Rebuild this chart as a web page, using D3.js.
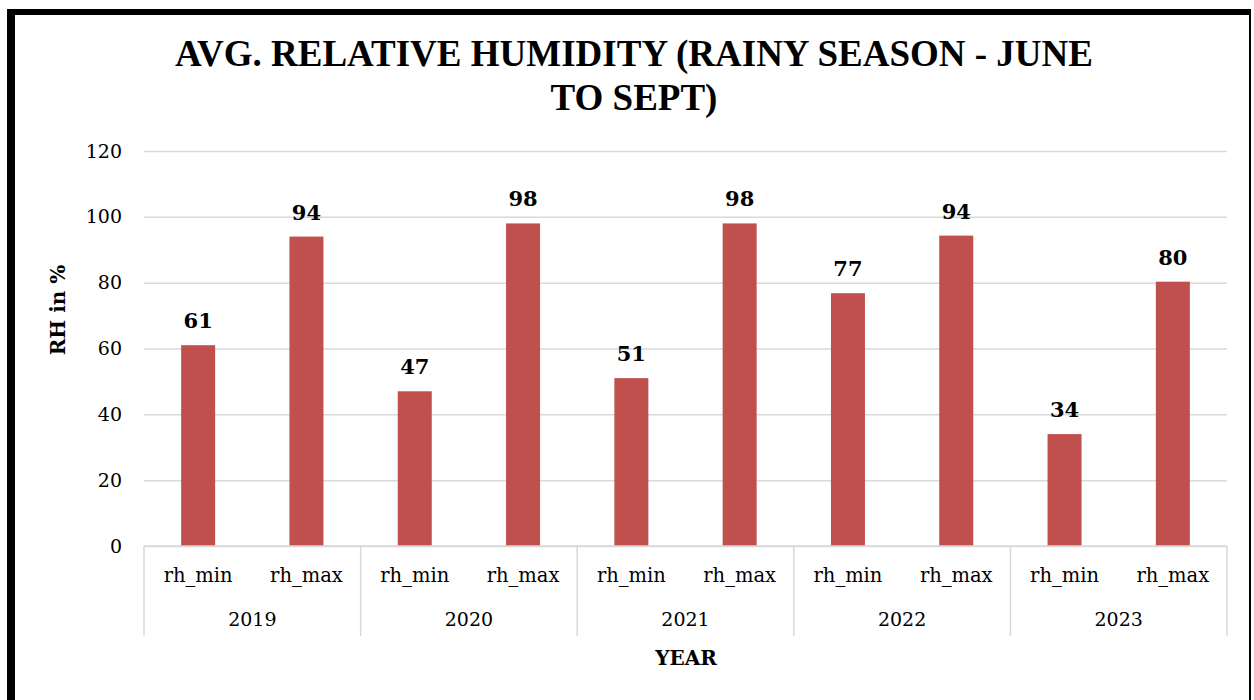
<!DOCTYPE html>
<html>
<head>
<meta charset="utf-8">
<script src="https://cdn.jsdelivr.net/npm/d3@7"></script>
<style>
  html, body { margin: 0; padding: 0; background: #fff; }
  svg { display: block; }
  .title { font-family: 'Liberation Serif', 'Times New Roman', Times, serif; }
</style>
</head>
<body>
<svg id="vis" width="1254" height="700"></svg>
<script>
// chart data
const years = ['2019', '2020', '2021', '2022', '2023'];
const types = ['rh_min', 'rh_max'];
const rhMin = [61, 47, 51, 76.8, 34];
const rhMax = [94, 98, 98, 94.3, 80.3];
const yTicks = [0, 20, 40, 60, 80, 100, 120];

const titleLines = ['AVG. RELATIVE HUMIDITY (RAINY SEASON - JUNE', 'TO SEPT)'];
const yTitle = 'RH in %';
const xTitle = 'YEAR';

const barColor = '#C0504D';
const gridColor = '#D9D9D9';
const tickFont = '"DejaVu Serif", serif';

const margin = { top: 151, left: 144, right: 27, bottom: 154 };
const W = 1254, H = 700;
const width = W - margin.left - margin.right;
const height = H - margin.top - margin.bottom;

const svg = d3.select('#vis');

svg.append('rect').attr('width', W).attr('height', H).attr('fill', '#fff');

// frame
svg.append('line').attr('x1', 11).attr('x2', 11).attr('y1', 9).attr('y2', H)
    .attr('stroke', '#000').attr('stroke-width', 8);
svg.append('line').attr('x1', 7).attr('x2', 1251).attr('y1', 12).attr('y2', 12)
    .attr('stroke', '#000').attr('stroke-width', 6);
svg.append('line').attr('x1', 1250).attr('x2', 1250).attr('y1', 9).attr('y2', H)
    .attr('stroke', '#000').attr('stroke-width', 2);

// title
svg.append('text')
    .attr('class', 'title')
    .attr('font-weight', 'bold')
    .attr('font-size', '37px')
    .attr('text-anchor', 'middle')
    .selectAll('tspan')
    .data(titleLines)
    .enter()
    .append('tspan')
    .attr('x', 634)
    .attr('y', (d, i) => 66 + i * 44)
    .text(d => d);

const g = svg.append('g')
    .attr('transform', 'translate(' + margin.left + ', ' + margin.top + ')');

const data = years.map((y, i) => ({ year: y, values: [
    { type: types[0], value: rhMin[i] },
    { type: types[1], value: rhMax[i] }
] }));

const x0 = d3.scaleBand().domain(years).range([0, width]).padding(0);
const x1 = d3.scaleBand().domain(types).range([0, x0.bandwidth()])
    .paddingInner(0.686).paddingOuter(0.343);
const y = d3.scaleLinear().domain([0, 120]).range([height, 0]);

// gridlines + y labels
const yAxis = g.append('g')
    .call(d3.axisLeft(y).tickValues(yTicks).tickSize(-width).tickPadding(22));
yAxis.select('.domain').remove();
yAxis.selectAll('.tick line').attr('stroke', gridColor).attr('stroke-width', 1.5);
yAxis.selectAll('.tick text')
    .attr('font-family', tickFont).attr('font-size', '19px').attr('fill', '#000');

// bars
const groups = g.selectAll('.year')
    .data(data)
    .enter()
    .append('g')
    .attr('class', 'year')
    .attr('transform', d => 'translate(' + x0(d.year) + ', 0)');

groups.selectAll('rect')
    .data(d => d.values)
    .enter()
    .append('rect')
    .attr('x', d => x1(d.type))
    .attr('y', d => y(d.value))
    .attr('width', x1.bandwidth())
    .attr('height', d => height - y(d.value))
    .attr('fill', barColor);

groups.selectAll('.lbl')
    .data(d => d.values)
    .enter()
    .append('text')
    .attr('class', 'lbl')
    .attr('x', d => x1(d.type) + x1.bandwidth() / 2)
    .attr('y', d => y(d.value) - 17)
    .attr('text-anchor', 'middle')
    .attr('font-family', tickFont)
    .attr('font-weight', 'bold')
    .attr('font-size', '21px')
    .text(d => d3.format('.0f')(d.value));

// category axis
g.append('line')
    .attr('x1', 0).attr('x2', width).attr('y1', height).attr('y2', height)
    .attr('stroke', gridColor).attr('stroke-width', 1.5);

g.selectAll('.sep')
    .data(years.concat(['end']))
    .enter()
    .append('line')
    .attr('class', 'sep')
    .attr('x1', (d, i) => i * x0.step())
    .attr('x2', (d, i) => i * x0.step())
    .attr('y1', height)
    .attr('y2', height + 90)
    .attr('stroke', gridColor)
    .attr('stroke-width', 1.5);

groups.each(function () {
    const a = d3.select(this).append('g')
        .attr('transform', 'translate(0, ' + height + ')')
        .call(d3.axisBottom(x1).tickSize(0).tickPadding(22));
    a.select('.domain').remove();
    a.selectAll('text').attr('font-family', tickFont).attr('font-size', '19.5px').attr('fill', '#000');
});

const yearAxis = g.append('g')
    .attr('transform', 'translate(0, ' + height + ')')
    .call(d3.axisBottom(x0).tickSize(0).tickPadding(67));
yearAxis.select('.domain').remove();
yearAxis.selectAll('text').attr('font-family', tickFont).attr('font-size', '19px').attr('fill', '#000');

// axis titles
svg.append('text')
    .attr('x', 686)
    .attr('y', 665)
    .attr('text-anchor', 'middle')
    .attr('font-family', tickFont)
    .attr('font-weight', 'bold')
    .attr('font-size', '20px')
    .text(xTitle);

svg.append('text')
    .attr('transform', 'translate(65, 310) rotate(-90)')
    .attr('text-anchor', 'middle')
    .attr('font-family', tickFont)
    .attr('font-weight', 'bold')
    .attr('font-size', '20px')
    .text(yTitle);
</script>
</body>
</html>
